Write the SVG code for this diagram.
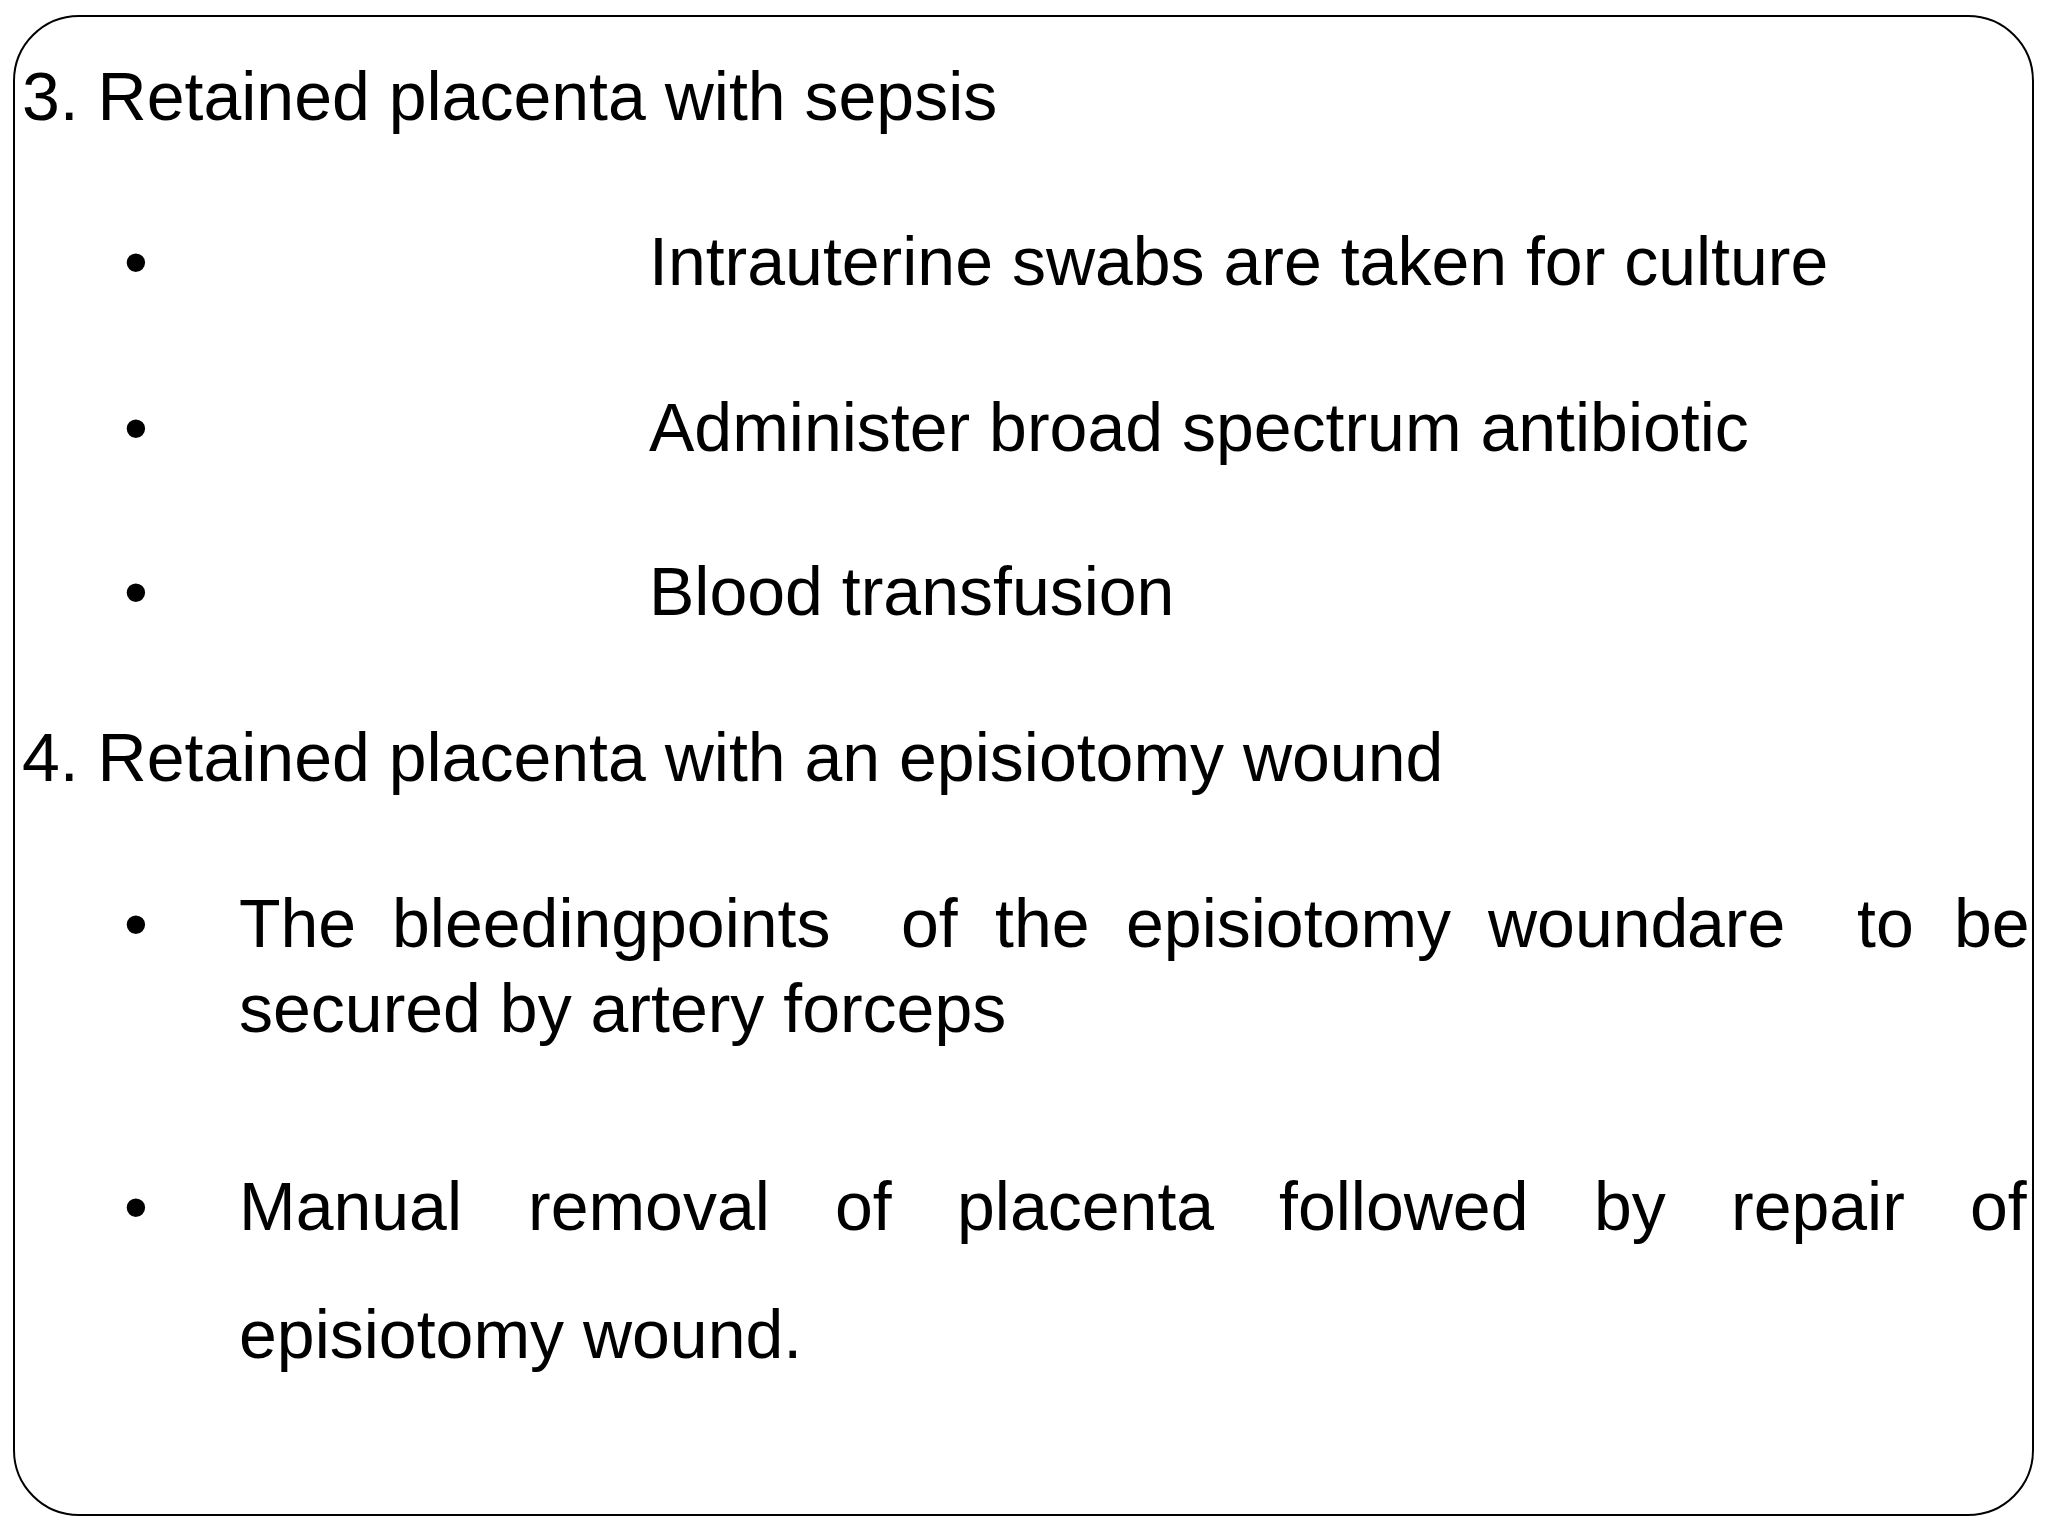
<svg xmlns="http://www.w3.org/2000/svg" width="2048" height="1536" viewBox="0 0 2048 1536">
<style>
text{font-family:"Liberation Sans",Arial,sans-serif;font-size:68px;fill:#000}
</style>
<rect width="2048" height="1536" fill="#fff"/>
<rect x="14" y="16" width="2019" height="1499" rx="65" fill="none" stroke="#000" stroke-width="2"/>
<g id="content">
<text x="22" y="120">3. Retained placenta with sepsis</text>
<text x="124" y="285">•</text><text x="649" y="285">Intrauterine swabs are taken for culture</text>
<text x="124" y="451">•</text><text x="649" y="451">Administer broad spectrum antibiotic</text>
<text x="124" y="615">•</text><text x="649" y="615">Blood transfusion</text>
<text x="22" y="781">4. Retained placenta with an episiotomy wound</text>
<text x="124" y="947">•</text>
<text y="947"><tspan x="239">The</tspan><tspan x="392">bleeding</tspan><tspan x="649">points</tspan><tspan x="901">of</tspan><tspan x="995">the</tspan><tspan x="1126">episiotomy</tspan><tspan x="1488">wound</tspan><tspan x="1687">are</tspan><tspan x="1857">to</tspan><tspan x="1954">be</tspan></text>
<text x="239" y="1032">secured by artery forceps</text>
<text x="124" y="1230">•</text>
<text y="1230"><tspan x="239">Manual</tspan><tspan x="528">removal</tspan><tspan x="835">of</tspan><tspan x="957">placenta</tspan><tspan x="1279">followed</tspan><tspan x="1594">by</tspan><tspan x="1731">repair</tspan><tspan x="1970">of</tspan></text>
<text x="239" y="1358">episiotomy wound.</text>
</g>
</svg>
